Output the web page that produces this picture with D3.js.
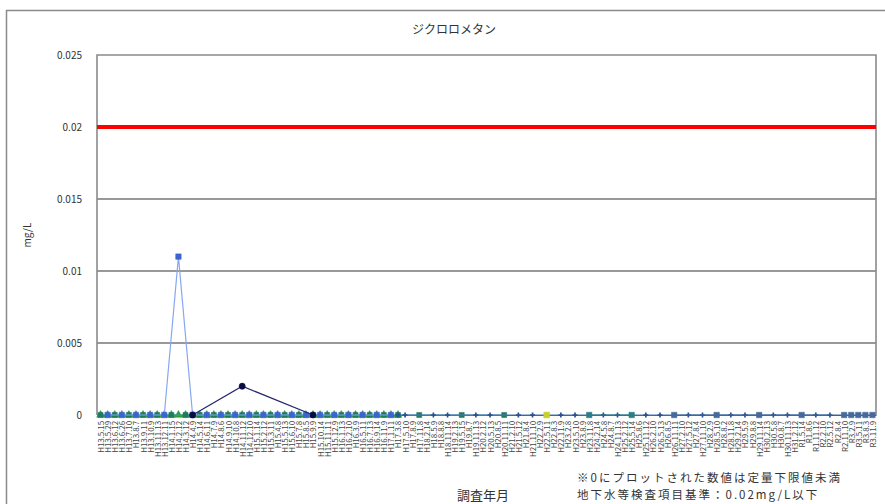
<!DOCTYPE html>
<html><head><meta charset="utf-8">
<script src="https://cdn.jsdelivr.net/npm/d3@7"></script>
<style>body{margin:0;background:#fff}svg{display:block}text{font-family:"Noto Sans CJK JP","Noto Sans",sans-serif}</style>
</head><body><div id="c"></div>
<script>
const title = "ジクロロメタン";
const yLabel = "mg/L";
const xTitle = "調査年月";
const notes = ["※0にプロットされた数値は定量下限値未満", "地下水等検査項目基準：0.02mg/L以下"];
const yTicks = [0, 0.005, 0.01, 0.015, 0.02, 0.025];
const yTickLabels = ["0", "0.005", "0.01", "0.015", "0.02", "0.025"];
const standardValue = 0.02;
const categories = [
"H13.5.15","H13.5.29","H13.6.12","H13.6.26","H13.7.10","H13.8.7","H13.9.11","H13.10.9","H13.11.13","H13.12.11",
"H14.1.15","H14.2.12","H14.3.12","H14.4.9","H14.5.14","H14.6.11","H14.7.9","H14.8.6","H14.9.10","H14.10.8",
"H14.11.12","H14.12.10","H15.1.14","H15.2.12","H15.3.11","H15.4.8","H15.5.13","H15.6.10","H15.7.8","H15.8.5",
"H15.9.9","H15.10.14","H15.11.11","H15.12.9","H16.1.13","H16.2.10","H16.3.9","H16.5.11","H16.7.13","H16.9.14",
"H16.11.9","H17.1.11","H17.3.8","H17.5.10","H17.8.9","H17.11.8","H18.2.14","H18.5.9","H18.8.8","H18.11.14",
"H19.2.13","H19.5.15","H19.8.7","H19.11.13","H20.2.12","H20.5.13","H20.8.5","H20.11.11","H21.2.10","H21.5.12",
"H21.8.4","H21.11.10","H22.2.9","H22.5.11","H22.8.3","H22.11.9","H23.2.8","H23.5.10","H23.8.9","H23.11.8",
"H24.2.14","H24.5.8","H24.8.7","H24.11.13","H25.2.12","H25.5.14","H25.8.6","H25.11.12","H26.2.10","H26.5.13",
"H26.8.5","H26.11.11","H27.2.10","H27.5.12","H27.8.4","H27.11.10","H28.2.9","H28.5.10","H28.8.2","H28.11.8",
"H29.2.14","H29.5.9","H29.8.8","H29.11.14","H30.2.13","H30.5.8","H30.8.7","H30.11.13","H31.2.12","R1.5.14",
"R1.8.6","R1.11.12","R2.2.10","R2.5.12","R2.8.4","R2.11.10","R3.2.9","R3.5.11","R3.8.3","R3.11.9"];
const _ = null;
// series values per category (null = not measured)
const wellGreen = [
0,0,0,0,0,0,0,0,0,0, 0,0,0,0,0,0,0,0,0,0, 0,0,0,0,0,0,0,0,0,0, 0,0,0,0,0,0,0,0,0,0,
0,0,0,_,_,_,_,_,_,_, _,_,_,_,_,_,_,_,_,_, _,_,_,_,_,_,_,_,_,_, _,_,_,_,_,_,_,_,_,_,
_,_,_,_,_,_,_,_,_,_, _,_,_,_,_,_,_,_,_,_, _,_,_,_,_,_,_,_,_,_];
const wellBlue = [
_,0,_,0,_,0,_,0,_,0, _,0.011,_,0,_,0,_,0,_,0, _,0,_,0,_,0,_,0,_,0, _,0,_,0,_,0,_,0,_,0,
_,0,_,_,_,_,_,_,_,_, _,_,_,_,_,_,_,_,_,_, _,_,_,_,_,_,_,_,_,_, _,_,_,_,_,_,_,_,_,_,
_,_,_,_,_,_,_,_,_,_, _,_,_,_,_,_,_,_,_,_, _,_,_,_,_,_,_,_,_,_];
const wellNavy = [
_,_,_,_,_,_,_,_,_,_, _,_,_,0,_,_,_,_,_,_, 0.002,_,_,_,_,_,_,_,_,_, 0,_,_,_,_,_,_,_,_,_,
_,_,_,_,_,_,_,_,_,_, _,_,_,_,_,_,_,_,_,_, _,_,_,_,_,_,_,_,_,_, _,_,_,_,_,_,_,_,_,_,
_,_,_,_,_,_,_,_,_,_, _,_,_,_,_,_,_,_,_,_, _,_,_,_,_,_,_,_,_,_];
const wellTeal = [
0,_,0,_,0,_,0,_,0,_, 0,_,0,_,0,_,0,_,0,_, 0,_,0,_,0,_,0,_,0,_, 0,_,0,_,0,_,0,_,0,_,
0,_,0,_,_,0,_,_,_,_, _,0,_,_,_,_,_,0,_,_, _,_,_,_,_,_,_,_,_,_, _,_,_,_,_,_,_,_,_,_,
_,_,_,_,_,_,_,_,_,_, _,_,_,_,_,_,_,_,_,_, _,_,_,_,_,_,_,_,_,_];
const wellYellow = [
_,_,_,_,_,_,_,_,_,_, _,_,_,_,_,_,_,_,_,_, _,_,_,_,_,_,_,_,_,_, _,_,_,_,_,_,_,_,_,_,
_,_,_,_,_,_,_,_,_,_, _,_,_,_,_,_,_,_,_,_, _,_,_,0,_,_,_,_,_,_, _,_,_,_,_,_,_,_,_,_,
_,_,_,_,_,_,_,_,_,_, _,_,_,_,_,_,_,_,_,_, _,_,_,_,_,_,_,_,_,_];
const wellCyan = [
_,_,_,_,_,_,_,_,_,_, _,_,_,_,_,_,_,_,_,_, _,_,_,_,_,_,_,_,_,_, _,_,_,_,_,_,_,_,_,_,
_,_,_,_,_,_,_,_,_,_, _,_,_,_,_,_,_,_,_,_, _,_,_,_,_,_,_,_,_,0, _,_,_,_,_,0,_,_,_,_,
_,_,_,_,_,_,_,_,_,_, _,_,_,_,_,_,_,_,_,_, _,_,_,_,_,_,_,_,_,_];
const wellSteel = [
_,_,_,_,_,_,_,_,_,_, _,_,_,_,_,_,_,_,_,_, _,_,_,_,_,_,_,_,_,_, _,_,_,_,_,_,_,_,_,_,
_,_,_,_,_,_,_,_,_,_, _,_,_,_,_,_,_,_,_,_, _,_,_,_,_,_,_,_,_,_, _,_,_,_,_,_,_,_,_,_,
_,0,_,_,_,_,_,0,_,_, _,_,_,0,_,_,_,_,_,0, _,_,_,_,_,0,0,0,0,0];
const wellPlus = [
_,_,_,_,_,_,_,_,_,_, _,_,_,_,_,_,_,_,_,_, _,_,_,_,_,_,_,_,_,_, _,_,_,_,_,_,_,_,_,_,
_,_,0,0,_,_,_,0,_,0, _,_,_,0,_,0,_,_,_,0, _,0,_,_,_,0,_,0,_,_, _,0,_,0,_,_,_,0,_,0,
_,_,_,0,_,0,_,_,_,0, _,0,_,_,_,0,_,0,_,_, _,0,_,0,_,_,_,_,_,_];

const series = [
  {v: wellGreen,  line:"#2e9b3c", fill:"#2e9b3c", shape:d3.symbolTriangle, size:26},
  {v: wellTeal,   line:"#3aa0a8", fill:"#1f7a62", shape:d3.symbolSquare, size:26},
  {v: wellBlue,   line:"#86a8f0", fill:"#3c64d0", shape:d3.symbolSquare, size:30},
  {v: wellNavy,   line:"#262670", fill:"#0a0a45", shape:d3.symbolCircle, size:30},
  {v: wellPlus,   line:"#4a78b0", fill:"#2b4f90", shape:d3.symbolCross, size:14},
  {v: wellYellow, line:"#c0cc30", fill:"#c8d030", shape:d3.symbolSquare, size:34},
  {v: wellCyan,   line:"#2a7f86", fill:"#2a7f86", shape:d3.symbolSquare, size:30},
  {v: wellSteel,  line:"#40689a", fill:"#45699a", shape:d3.symbolSquare, size:30}
];

const W = 885, H = 504;
const m = {left:97, right:876, top:55, bottom:415};
const svg = d3.select("#c").append("svg").attr("width", W).attr("height", H);

// outer frame
svg.append("path").attr("d", `M6.5,${H}V10.5H${W}`).attr("fill","none").attr("stroke","#8a8a8a").attr("stroke-width",1.5);

const x = d3.scalePoint().domain(d3.range(categories.length)).range([m.left, m.right]).padding(0.5);
const y = d3.scaleLinear().domain([0, 0.025]).range([m.bottom, m.top]);

// gridlines
svg.append("g").selectAll("line").data(yTicks.filter(t => t > 0 && t < 0.025)).join("line")
  .attr("x1", m.left).attr("x2", m.right).attr("y1", d => y(d)).attr("y2", d => y(d))
  .attr("stroke", "#333").attr("stroke-width", 1);

// plot border
svg.append("path").attr("d", `M${m.left},${m.bottom}V${m.top}H${m.right}V${m.bottom}`)
  .attr("fill","none").attr("stroke","#8a8a8a").attr("stroke-width",1.6);

// y axis labels
const yAxis = d3.axisLeft(y).tickValues(yTicks).tickFormat((d,i) => yTickLabels[i]).tickSize(0).tickPadding(15);
const yg = svg.append("g").attr("transform", `translate(${m.left},0)`).call(yAxis);
yg.select(".domain").remove();
yg.selectAll("text").attr("font-size", 10).attr("fill", "#333").attr("font-family", '"Noto Sans CJK JP",sans-serif');

// x axis labels
const xAxis = d3.axisBottom(x).tickFormat(i => categories[i]).tickSize(0).tickPadding(0);
const xg = svg.append("g").attr("transform", `translate(0,${m.bottom})`).call(xAxis);
xg.select(".domain").attr("stroke", "#555");
xg.selectAll("text").attr("font-size", 7.8).attr("fill", "#444")
  .attr("text-anchor", "end").attr("dy", 0)
  .attr("transform", "translate(3,6) rotate(-90)");

// standard line
svg.append("line").attr("x1", m.left).attr("x2", m.right).attr("y1", y(standardValue)).attr("y2", y(standardValue))
  .attr("stroke", "#ff0000").attr("stroke-width", 4);

// series
const lineGen = d3.line().x(d => x(d.i)).y(d => y(d.v));
series.forEach(s => {
  const pts = s.v.map((v,i) => ({i, v})).filter(d => d.v !== null);
  svg.append("path").datum(pts).attr("d", lineGen).attr("fill","none").attr("stroke", s.line).attr("stroke-width", 1.2);
  svg.append("g").selectAll("path").data(pts).join("path")
    .attr("transform", d => `translate(${x(d.i)},${y(d.v)})`)
    .attr("d", d3.symbol().type(s.shape).size(s.size))
    .attr("fill", s.fill).attr("stroke", s.shape === d3.symbolCross ? "none" : s.fill).attr("stroke-width", 0.5);
});

// titles
svg.append("text").attr("x", 454).attr("y", 34).attr("text-anchor","middle").attr("font-size", 12).attr("fill","#333").text(title);
svg.append("text").attr("transform","translate(31,235) rotate(-90)").attr("text-anchor","middle").attr("font-size", 10).attr("fill","#333").text(yLabel);
svg.append("text").attr("x", 483).attr("y", 500).attr("text-anchor","middle").attr("font-size", 13).attr("fill","#333").text(xTitle);
svg.append("g").selectAll("text").data(notes).join("text")
  .attr("x", 577).attr("y", (d,i) => 482 + i*17).attr("font-size", 11.5).attr("letter-spacing", 2)
  .attr("fill","#333").text(d => d);
</script></body></html>
